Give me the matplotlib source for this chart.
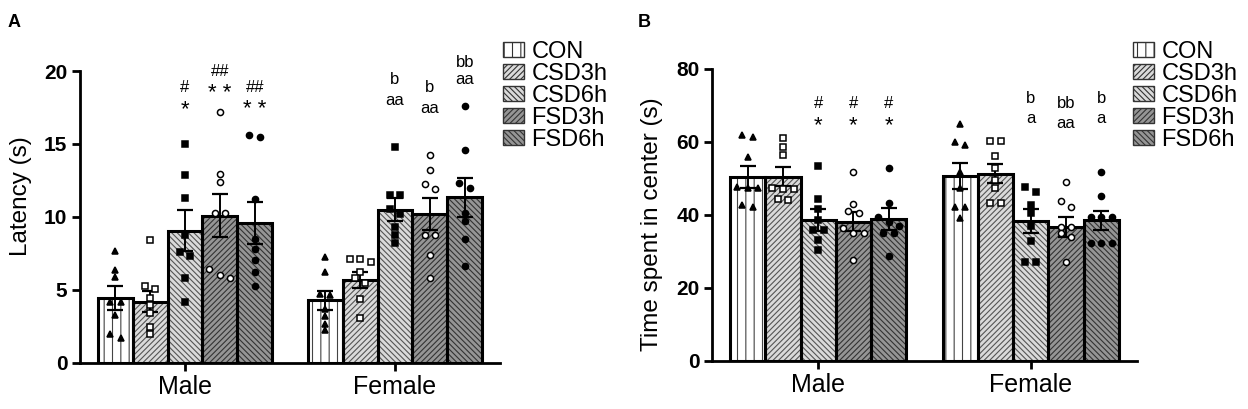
import numpy as np
import matplotlib
matplotlib.use("Agg")
import matplotlib.pyplot as plt
from matplotlib.patches import Patch

plt.rcParams['font.family'] = ['Liberation Sans', 'DejaVu Sans']
plt.rcParams['hatch.linewidth'] = 0.8

groups = ["Male", "Female"]
conditions = ["CON", "CSD3h", "CSD6h", "FSD3h", "FSD6h"]

# panel A: latency (s), bar means and SEM
lat_mean = {"Male": [4.45, 4.2, 9.05, 10.1, 9.6],
            "Female": [4.3, 5.7, 10.5, 10.2, 11.35]}
lat_sem = {"Male": [0.8, 0.7, 1.4, 1.45, 1.45],
           "Female": [0.65, 0.55, 0.8, 1.1, 1.35]}
lat_points = {
    "Male": [[7.7, 6.4, 5.9, 4.2, 4.2, 3.3, 2.0, 1.7],
             [8.45, 5.3, 5.1, 4.45, 4.0, 3.4, 2.45, 2.0],
             [15.0, 12.85, 11.3, 8.75, 7.6, 7.3, 5.8, 4.15],
             [17.2, 12.95, 12.4, 10.25, 10.25, 6.45, 6.05, 5.8],
             [15.5, 15.6, 11.2, 8.5, 7.8, 7.05, 6.25, 5.3]],
    "Female": [[7.25, 6.25, 4.65, 4.75, 3.7, 3.25, 2.7, 2.25],
               [7.15, 7.1, 6.9, 6.25, 5.8, 5.5, 4.4, 3.05],
               [14.8, 11.5, 11.5, 10.55, 10.2, 9.3, 8.75, 8.2],
               [14.25, 13.2, 12.25, 11.9, 8.8, 8.8, 7.4, 5.8],
               [17.6, 14.6, 12.35, 12.0, 10.3, 9.75, 8.5, 6.65]],
}
lat_marks = {
    "Male": [None, None, ("#", "*", 18.85, 17.6), ("##", "**", 20.0, 18.7), ("##", "**", 18.85, 17.6)],
    "Female": [None, None, ("b", "aa", 19.4, 17.95), ("b", "aa", 18.9, 17.4), ("bb", "aa", 20.6, 19.4)],
}

# panel B: time spent in center (s)
ctr_mean = {"Male": [50.5, 50.5, 38.6, 38.2, 38.9],
            "Female": [50.7, 51.3, 38.4, 36.8, 38.6]}
ctr_sem = {"Male": [3.0, 2.6, 3.0, 2.7, 2.9],
           "Female": [3.6, 2.6, 3.3, 2.7, 2.6]}
ctr_points = {
    "Male": [[61.4, 61.9, 56.0, 47.5, 47.8, 47.3, 42.3, 42.7],
             [61.2, 58.7, 56.4, 47.0, 47.3, 47.1, 44.1, 44.3],
             [53.5, 44.4, 41.6, 38.6, 35.9, 35.9, 33.2, 30.4],
             [51.9, 43.0, 41.2, 40.6, 35.0, 35.0, 36.5, 27.7],
             [53.0, 43.2, 39.4, 38.2, 37.0, 35.0, 35.0, 28.8]],
    "Female": [[64.9, 60.1, 59.2, 51.9, 47.5, 42.3, 42.3, 39.1],
               [60.3, 60.3, 56.2, 52.8, 49.6, 47.3, 43.2, 43.2],
               [47.8, 46.4, 42.7, 40.5, 37.0, 33.0, 27.2, 27.2],
               [49.1, 43.7, 42.3, 36.8, 36.8, 35.0, 33.9, 27.2],
               [51.9, 45.2, 39.5, 39.5, 39.5, 32.2, 32.2, 32.2]],
}
ctr_marks = {
    "Male": [None, None, ("#", "*", 70.6, 65.3), ("#", "*", 70.6, 65.3), ("#", "*", 70.6, 65.3)],
    "Female": [None, None, ("b", "a", 72.0, 66.5), ("bb", "aa", 70.6, 65.1), ("b", "a", 72.0, 66.5)],
}

faces = ["white", "#dadada", "#dadada", "#959595", "#959595"]
hatch_cols = ["#444444", "#555555", "#555555", "#333333", "#333333"]
hatches = ["||", "//////", "\\\\\\\\\\\\", "//////", "\\\\\\\\\\\\"]
markers = ["^", "s", "s", "o", "o"]
mfill = ["black", "white", "black", "white", "black"]

width = 0.166


def swarm(vals, thresh, step):
    # spread points sideways when their values are close
    order = np.argsort(vals)[::-1]
    offs = np.zeros(len(vals))
    clusters = []
    for i in order:
        if clusters and abs(vals[clusters[-1][-1]] - vals[i]) < thresh:
            clusters[-1].append(i)
        else:
            clusters.append([i])
    for c in clusters:
        n = len(c)
        for k, i in enumerate(c):
            offs[i] = (k - (n - 1) / 2) * step
    return offs


def panel(ax, means, sems, points, marks, ymax, ystep, ylabel, thresh, mfs, label_y):
    for gi, g in enumerate(groups):
        for ci in range(len(conditions)):
            x = gi + (ci - 2) * width
            ax.bar(x, means[g][ci], width, color=faces[ci], hatch=hatches[ci],
                   edgecolor=hatch_cols[ci], linewidth=0, zorder=2)
            ax.bar(x, means[g][ci], width, fill=False, edgecolor="black",
                   linewidth=2.2, zorder=3)
            ax.errorbar(x, means[g][ci], yerr=sems[g][ci], color="black",
                        capsize=6, elinewidth=1.4, capthick=1.6, zorder=4)
            vals = np.array(points[g][ci])
            offs = swarm(vals, thresh, 0.05)
            ax.plot(x + offs, vals, linestyle="none", marker=markers[ci],
                    markersize=mfs, markerfacecolor=mfill[ci],
                    markeredgecolor="black", markeredgewidth=1.1, zorder=5,
                    clip_on=False)
            m = marks[g][ci]
            if m:
                ax.text(x, m[2], m[0], ha="center", va="center", fontsize=12)
                star = m[1]
                if "*" in star:
                    ax.text(x, m[3] - ymax * 0.012, " ".join(star), ha="center",
                            va="center", fontsize=16)
                else:
                    ax.text(x, m[3], star, ha="center", va="center", fontsize=12)
    ax.set_xlim(-0.5, 1.5)
    ax.set_ylim(0, ymax)
    ax.set_yticks(np.arange(0, ymax + 0.1, ystep))
    ax.set_xticks([0, 1])
    ax.set_xticklabels(groups, fontsize=18)
    for lab in ax.get_yticklabels():
        lab.set_fontweight("bold")
        lab.set_fontsize(15)
    ax.set_ylabel(ylabel, fontsize=17.5)
    ax.yaxis.set_label_coords(-0.115, label_y)
    ax.spines["top"].set_visible(False)
    ax.spines["right"].set_visible(False)
    ax.spines["left"].set_linewidth(2)
    ax.spines["bottom"].set_linewidth(2)
    ax.tick_params(width=2, length=6, direction="out", pad=3)


fig = plt.figure(figsize=(12.48, 4.09), dpi=100)
axA = fig.add_axes([0.0641, 0.1125, 0.3365, 0.7139])
axB = fig.add_axes([0.5705, 0.1174, 0.3405, 0.7139])

panel(axA, lat_mean, lat_sem, lat_points, lat_marks, 20, 5, "Latency (s)", 0.45, 4.4, 0.57)
panel(axB, ctr_mean, ctr_sem, ctr_points, ctr_marks, 80, 20, "Time spent in center (s)", 1.6, 4.4, 0.47)

handles = [Patch(facecolor=faces[i], hatch=hatches[i], edgecolor="#333333", linewidth=1)
           for i in range(len(conditions))]
for pos in [(0.403, 0.90), (0.908, 0.90)]:
    fig.legend(handles, conditions, loc="upper left", bbox_to_anchor=pos, frameon=False,
               fontsize=17, labelspacing=0.0, handlelength=0.9, handleheight=0.55,
               handletextpad=0.3, borderpad=0, borderaxespad=0)

fig.text(0.006, 0.935, "A", fontsize=13, fontweight="bold")
fig.text(0.511, 0.935, "B", fontsize=13, fontweight="bold")

fig.savefig("out.png", dpi=100)
